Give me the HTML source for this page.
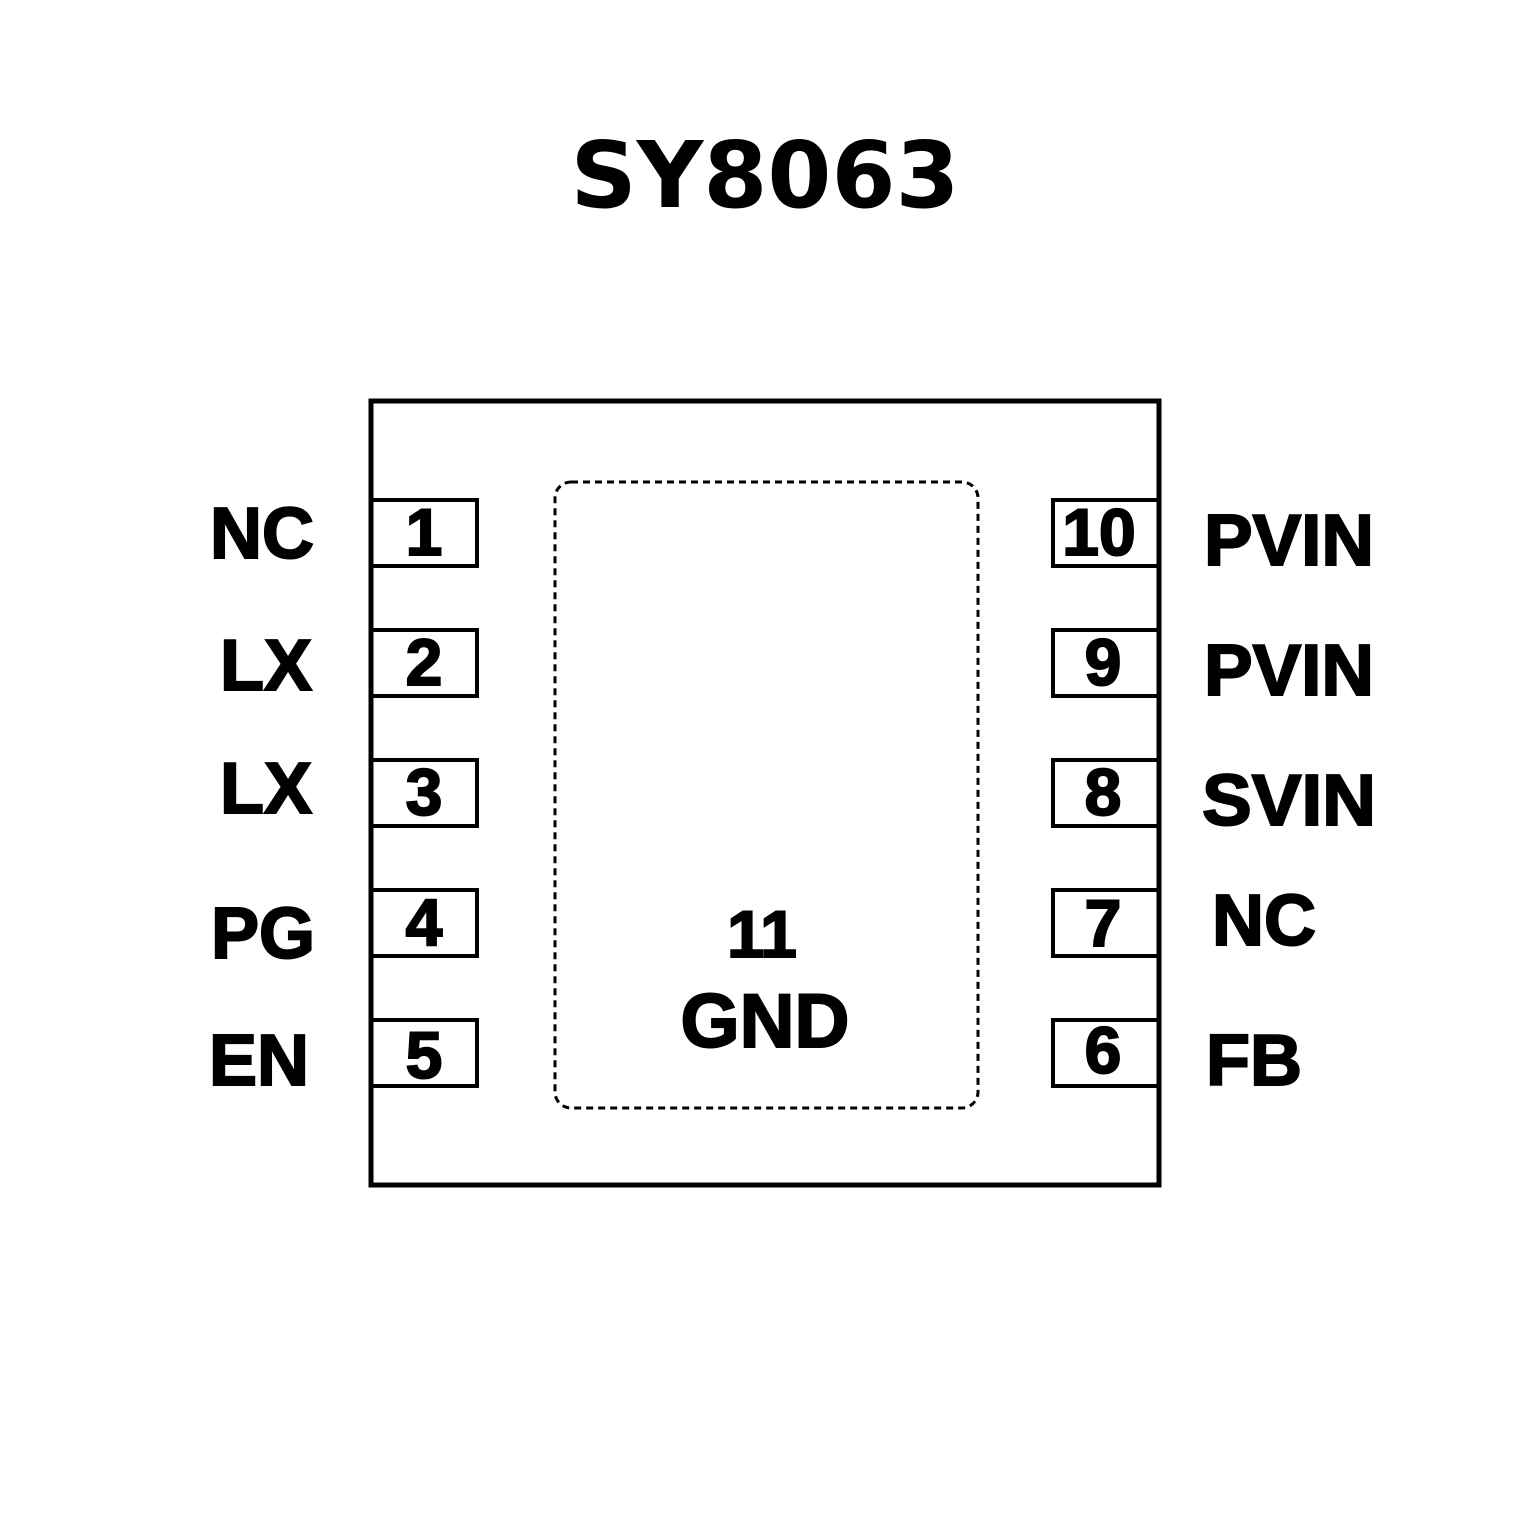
<!DOCTYPE html>
<html><head><meta charset="utf-8"><style>html,body{margin:0;padding:0;background:#fff}</style></head>
<body>
<svg width="1535" height="1535" viewBox="0 0 1535 1535" xmlns="http://www.w3.org/2000/svg">
<rect width="1535" height="1535" fill="#fff"/>
<text x="765" y="207" text-anchor="middle" font-family="DejaVu Sans, sans-serif" font-weight="bold" font-size="92" fill="#000">SY8063</text>
<rect x="371" y="401" width="788" height="784" fill="none" stroke="#000" stroke-width="5"/>
<rect x="555" y="482" width="423" height="626" rx="16" fill="none" stroke="#000" stroke-width="3" stroke-dasharray="7,5"/>
<g fill="none" stroke="#000" stroke-width="4">
<rect x="371" y="500" width="106" height="66"/>
<rect x="371" y="630" width="106" height="66"/>
<rect x="371" y="760" width="106" height="66"/>
<rect x="371" y="890" width="106" height="66"/>
<rect x="371" y="1020" width="106" height="66"/>
<rect x="1053" y="500" width="106" height="66"/>
<rect x="1053" y="630" width="106" height="66"/>
<rect x="1053" y="760" width="106" height="66"/>
<rect x="1053" y="890" width="106" height="66"/>
<rect x="1053" y="1020" width="106" height="66"/>
</g>
<g font-family="Liberation Sans, Arial, sans-serif" font-weight="bold" fill="#000" stroke="#000" stroke-width="2">
<g font-size="72" text-anchor="end">
<text x="314" y="558">NC</text>
<text x="312" y="690">LX</text>
<text x="312" y="813">LX</text>
<text x="315" y="958">PG</text>
<text x="309" y="1085">EN</text>
</g>
<g font-size="72" text-anchor="start">
<text x="1204" y="565" textLength="170" lengthAdjust="spacingAndGlyphs">PVIN</text>
<text x="1204" y="695" textLength="170" lengthAdjust="spacingAndGlyphs">PVIN</text>
<text x="1202" y="825" textLength="174" lengthAdjust="spacingAndGlyphs">SVIN</text>
<text x="1212" y="945">NC</text>
<text x="1206" y="1085">FB</text>
</g>
<g font-size="66" text-anchor="middle">
<text x="424" y="555">1</text>
<text x="424" y="685">2</text>
<text x="424" y="815">3</text>
<text x="424" y="945">4</text>
<text x="424" y="1078">5</text>
<text x="1099" y="555">10</text>
<text x="1103" y="685">9</text>
<text x="1103" y="815">8</text>
<text x="1103" y="946">7</text>
<text x="1103" y="1073">6</text>
<text x="762" y="957">11</text>
<text x="765" y="1047" font-size="76">GND</text>
</g>
</g>
</svg>
</body></html>
